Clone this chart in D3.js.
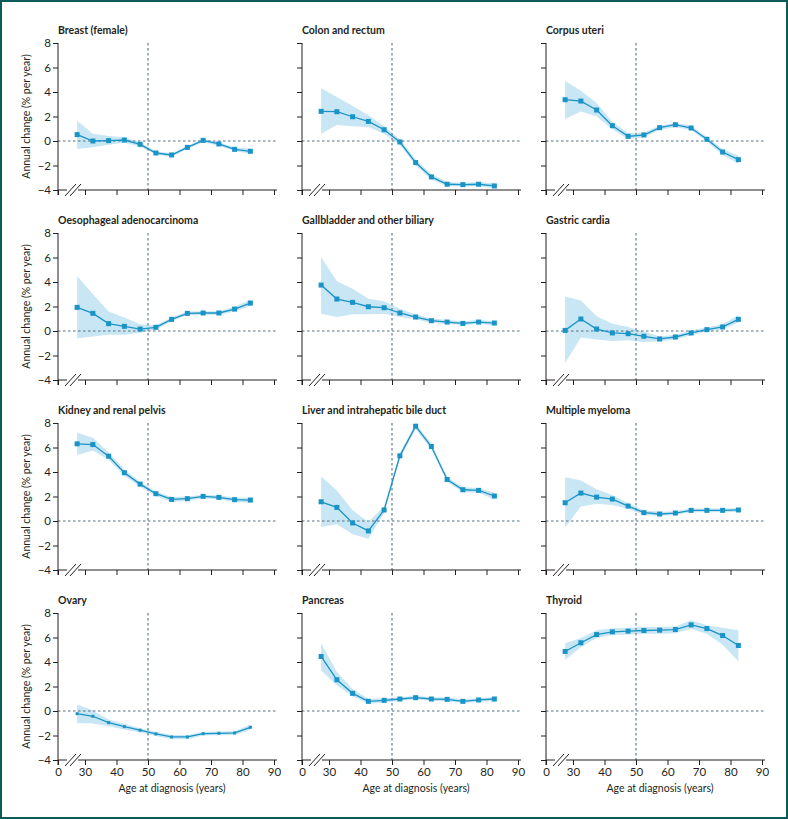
<!DOCTYPE html>
<html>
<head>
<meta charset="utf-8">
<script src="https://cdn.jsdelivr.net/npm/d3@7"></script>
<style>
  html, body { margin: 0; padding: 0; background: #fff; }
  svg { display: block; }
  text { font-family: Lato, "Noto Sans", sans-serif; fill: #231f20; }
</style>
</head>
<body>
<div id="chart"></div>
<script>
// Age groups (midpoints, years)
var ages = [27.5, 32.5, 37.5, 42.5, 47.5, 52.5, 57.5, 62.5, 67.5, 72.5, 77.5, 82.5];
var xTicks = [0, 30, 40, 50, 60, 70, 80, 90];
var yTicks = [-4, -2, 0, 2, 4, 6, 8];

var titles = ["Breast (female)", "Colon and rectum", "Corpus uteri",
  "Oesophageal adenocarcinoma", "Gallbladder and other biliary", "Gastric cardia",
  "Kidney and renal pelvis", "Liver and intrahepatic bile duct", "Multiple myeloma",
  "Ovary", "Pancreas", "Thyroid"];

// annual change, lower and upper confidence limits
var breastEst = [0.52, 0.0, 0.03, 0.08, -0.27, -0.98, -1.14, -0.52, 0.05, -0.24, -0.68, -0.84];
var breastLo  = [-0.65, -0.5, -0.3, -0.15, -0.45, -1.1, -1.28, -0.65, -0.1, -0.38, -0.82, -1.05];
var breastHi  = [1.65, 0.6, 0.4, 0.3, -0.1, -0.85, -1.0, -0.38, 0.18, -0.1, -0.54, -0.62];

var colonEst = [2.42, 2.39, 1.98, 1.6, 0.92, -0.08, -1.76, -2.93, -3.53, -3.56, -3.53, -3.67];
var colonLo  = [0.6, 1.3, 1.2, 1.15, 0.6, -0.3, -2.0, -3.15, -3.7, -3.72, -3.7, -3.85];
var colonHi  = [4.3, 3.6, 2.85, 2.1, 1.2, 0.15, -1.5, -2.7, -3.35, -3.4, -3.35, -3.45];

var uteriEst = [3.37, 3.26, 2.53, 1.25, 0.38, 0.49, 1.09, 1.33, 1.06, 0.14, -0.9, -1.52];
var uteriLo  = [1.8, 2.4, 2.0, 0.95, 0.15, 0.3, 0.9, 1.15, 0.88, -0.05, -1.15, -1.85];
var uteriHi  = [4.9, 4.1, 3.1, 1.55, 0.65, 0.7, 1.25, 1.5, 1.25, 0.32, -0.65, -1.2];

var oesoEst = [1.93, 1.44, 0.6, 0.38, 0.16, 0.3, 0.95, 1.44, 1.47, 1.47, 1.79, 2.28];
var oesoLo  = [-0.6, -0.45, -0.3, -0.3, -0.15, 0.1, 0.8, 1.3, 1.32, 1.32, 1.6, 2.05];
var oesoHi  = [4.5, 3.0, 1.6, 1.1, 0.55, 0.5, 1.1, 1.6, 1.62, 1.62, 1.98, 2.55];

var gallEst = [3.75, 2.61, 2.34, 1.98, 1.9, 1.47, 1.14, 0.84, 0.73, 0.62, 0.73, 0.65];
var gallLo  = [1.41, 1.14, 1.36, 1.36, 1.41, 1.14, 0.95, 0.65, 0.58, 0.48, 0.58, 0.5];
var gallHi  = [6.03, 4.07, 3.45, 2.63, 2.42, 1.82, 1.35, 1.05, 0.9, 0.8, 0.9, 0.82];

var cardiaEst = [0.05, 0.98, 0.16, -0.16, -0.22, -0.43, -0.65, -0.49, -0.16, 0.11, 0.33, 0.95];
var cardiaLo  = [-2.61, -0.54, -0.7, -0.81, -0.76, -0.9, -0.85, -0.7, -0.35, -0.05, 0.15, 0.7];
var cardiaHi  = [2.82, 2.5, 1.2, 0.6, 0.33, -0.05, -0.45, -0.3, 0.05, 0.3, 0.55, 1.3];

var kidneyEst = [6.3, 6.24, 5.29, 3.94, 3.01, 2.23, 1.76, 1.82, 2.01, 1.93, 1.74, 1.71];
var kidneyLo  = [5.38, 5.76, 5.0, 3.7, 2.8, 2.05, 1.55, 1.65, 1.85, 1.78, 1.55, 1.5];
var kidneyHi  = [7.2, 6.79, 5.6, 4.2, 3.2, 2.4, 1.95, 2.0, 2.15, 2.08, 1.92, 1.9];

var liverEst = [1.57, 1.11, -0.16, -0.81, 0.9, 5.32, 7.74, 6.08, 3.39, 2.55, 2.5, 2.04];
var liverLo  = [-0.49, -0.27, -1.09, -1.44, 0.65, 5.1, 7.5, 5.85, 3.2, 2.35, 2.3, 1.75];
var liverHi  = [3.64, 2.5, 0.87, -0.08, 1.2, 5.55, 7.95, 6.3, 3.6, 2.75, 2.7, 2.3];

var myelomaEst = [1.49, 2.28, 1.95, 1.79, 1.22, 0.68, 0.57, 0.65, 0.87, 0.87, 0.87, 0.9];
var myelomaLo  = [-0.54, 1.19, 1.4, 1.3, 1.0, 0.5, 0.4, 0.5, 0.72, 0.72, 0.72, 0.75];
var myelomaHi  = [3.58, 3.31, 2.6, 2.1, 1.45, 0.88, 0.75, 0.8, 1.02, 1.02, 1.02, 1.05];

var ovaryEst = [-0.22, -0.43, -0.95, -1.28, -1.57, -1.87, -2.12, -2.12, -1.85, -1.82, -1.79, -1.33];
var ovaryLo  = [-0.98, -1.03, -1.25, -1.5, -1.75, -2.05, -2.3, -2.3, -2.0, -1.97, -1.95, -1.55];
var ovaryHi  = [0.54, 0.05, -0.7, -1.05, -1.4, -1.7, -1.95, -1.95, -1.7, -1.68, -1.65, -1.1];

var pancreasEst = [4.45, 2.55, 1.44, 0.79, 0.87, 0.98, 1.09, 0.98, 0.95, 0.79, 0.9, 0.98];
var pancreasLo  = [3.31, 2.09, 1.2, 0.6, 0.7, 0.82, 0.95, 0.82, 0.8, 0.65, 0.75, 0.8];
var pancreasHi  = [5.54, 3.18, 1.8, 1.0, 1.05, 1.12, 1.25, 1.12, 1.1, 0.95, 1.05, 1.15];

var thyroidEst = [4.86, 5.57, 6.24, 6.46, 6.52, 6.57, 6.6, 6.65, 7.03, 6.73, 6.16, 5.35];
var thyroidLo  = [4.18, 5.2, 5.95, 6.2, 6.25, 6.3, 6.3, 6.35, 6.7, 6.3, 5.4, 4.05];
var thyroidHi  = [5.54, 5.95, 6.6, 6.75, 6.8, 6.85, 6.85, 6.9, 7.4, 7.0, 6.8, 6.6];

var estimates = [breastEst, colonEst, uteriEst, oesoEst, gallEst, cardiaEst,
  kidneyEst, liverEst, myelomaEst, ovaryEst, pancreasEst, thyroidEst];
var lowers = [breastLo, colonLo, uteriLo, oesoLo, gallLo, cardiaLo,
  kidneyLo, liverLo, myelomaLo, ovaryLo, pancreasLo, thyroidLo];
var uppers = [breastHi, colonHi, uteriHi, oesoHi, gallHi, cardiaHi,
  kidneyHi, liverHi, myelomaHi, ovaryHi, pancreasHi, thyroidHi];

var width = 788, height = 819;
var colX = [58, 302, 546];
var rowY = [43, 233, 423, 613];
var panelH = 147;
var lineColor = "#1a93c7";
var bandColor = "#c8e6f4";
var refColor = "#55707e";

var svg = d3.select("#chart").append("svg")
  .attr("width", width)
  .attr("height", height);

svg.append("rect")
  .attr("x", 1).attr("y", 1)
  .attr("width", width - 2).attr("height", height - 2)
  .attr("fill", "#fff")
  .attr("stroke", "#0d5b58")
  .attr("stroke-width", 2);

// broken x axis: 0 sits at the origin, the 25-90 range after the break
var x = d3.scaleLinear().domain([0, 25, 90]).range([0, 11.25, 216]);
var y = d3.scaleLinear().domain([-4, 8]).range([panelH, 0]);

titles.forEach(function (title, i) {
  var col = i % 3, row = Math.floor(i / 3);
  var g = svg.append("g")
    .attr("transform", "translate(" + colX[col] + "," + rowY[row] + ")");

  var est = estimates[i], lo = lowers[i], hi = uppers[i];
  var pts = ages.map(function (a, k) { return { age: a, v: est[k], lo: lo[k], hi: hi[k] }; });

  g.append("text")
    .attr("x", 0).attr("y", -9)
    .attr("font-size", 10.5)
    .attr("font-weight", 700)
    .text(title);

  // confidence band
  var area = d3.area()
    .x(function (d) { return x(d.age); })
    .y0(function (d) { return y(d.lo); })
    .y1(function (d) { return y(d.hi); });
  g.append("path").datum(pts)
    .attr("d", area)
    .attr("fill", bandColor);

  // reference lines
  g.append("line")
    .attr("x1", 0).attr("x2", 219)
    .attr("y1", y(0)).attr("y2", y(0))
    .attr("stroke", refColor).attr("stroke-width", 1.1)
    .attr("stroke-dasharray", "2.5,2.5");
  g.append("line")
    .attr("x1", x(50)).attr("x2", x(50))
    .attr("y1", 0).attr("y2", panelH)
    .attr("stroke", refColor).attr("stroke-width", 1.1)
    .attr("stroke-dasharray", "2.5,2.5");

  // y axis
  var yAxis = d3.axisLeft(y).tickValues(yTicks).tickSize(5).tickPadding(2)
    .tickFormat(col === 0 ? function (d) { return d < 0 ? "\u2212" + Math.abs(d) : d; } : "");
  var ya = g.append("g").call(yAxis);
  ya.select(".domain").remove();
  ya.append("line").attr("x1", 0).attr("x2", 0).attr("y1", 0).attr("y2", panelH + 5)
    .attr("stroke", "#231f20");
  ya.selectAll("text").attr("font-size", 11.5).attr("font-family", "Lato, sans-serif").attr("fill", "#231f20");
  ya.selectAll(".tick line").attr("stroke", "#231f20");

  // x axis
  var xAxis = d3.axisBottom(x).tickValues(xTicks).tickSize(5).tickPadding(3)
    .tickFormat(row === 3 ? d3.format("d") : "");
  var xa = g.append("g").attr("transform", "translate(0," + panelH + ")").call(xAxis);
  xa.select(".domain").remove();
  xa.append("line").attr("x1", 0).attr("x2", 219).attr("y1", 0).attr("y2", 0)
    .attr("stroke", "#231f20");
  xa.selectAll("text").attr("font-size", 11.5).attr("font-family", "Lato, sans-serif").attr("fill", "#231f20");
  xa.selectAll(".tick line").attr("stroke", "#231f20");

  // break marks
  var brk = xa.append("g");
  brk.append("line").attr("x1", 9).attr("x2", 20).attr("y1", 0).attr("y2", 0)
    .attr("stroke", "#fff").attr("stroke-width", 3);
  [0, 5].forEach(function (o) {
    brk.append("line")
      .attr("x1", 7 + o).attr("y1", 6)
      .attr("x2", 18 + o).attr("y2", -6)
      .attr("stroke", "#231f20").attr("stroke-width", 1);
  });

  if (row === 3) {
    g.append("text")
      .attr("x", 114).attr("y", panelH + 32)
      .attr("text-anchor", "middle")
      .attr("font-size", 10.5)
      .text("Age at diagnosis (years)");
  }
  if (col === 0) {
    g.append("text")
      .attr("transform", "translate(-28," + (panelH / 2) + ") rotate(-90)")
      .attr("text-anchor", "middle")
      .attr("font-size", 10.5)
      .text("Annual change (% per year)");
  }

  // estimate line and markers
  var line = d3.line()
    .x(function (d) { return x(d.age); })
    .y(function (d) { return y(d.v); });
  g.append("path").datum(pts)
    .attr("d", line)
    .attr("fill", "none")
    .attr("stroke", lineColor)
    .attr("stroke-width", 1.3);

  var s = title === "Ovary" ? 3 : 5;
  g.selectAll(".marker").data(pts).enter()
    .append("rect")
    .attr("class", "marker")
    .attr("x", function (d) { return x(d.age) - s / 2; })
    .attr("y", function (d) { return y(d.v) - s / 2; })
    .attr("width", s).attr("height", s)
    .attr("fill", lineColor);
});
</script>
</body>
</html>
